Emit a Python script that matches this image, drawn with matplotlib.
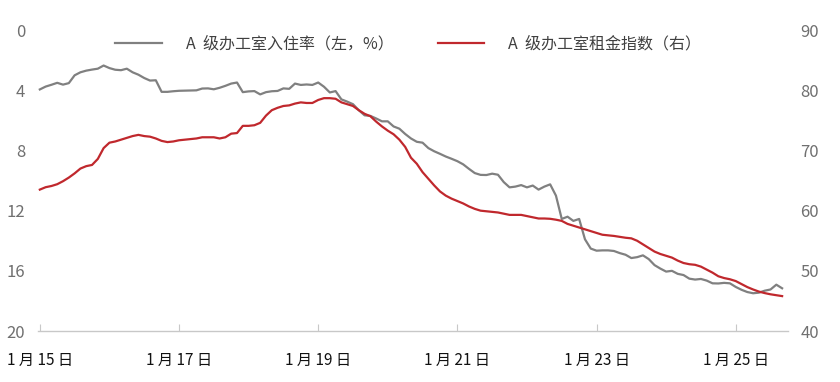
import numpy as np
import matplotlib
matplotlib.use("Agg")
import matplotlib.pyplot as plt

plt.rcParams['font.family'] = ['Noto Sans CJK SC', 'DejaVu Sans']

# monthly data, Jan 2015 onwards
occupancy = [3.94, 3.75, 3.63, 3.50, 3.62, 3.52, 3.00, 2.80, 2.69, 2.62,
             2.56, 2.35, 2.52, 2.63, 2.66, 2.56, 2.80, 2.96, 3.18, 3.35,
             3.33, 4.10, 4.10, 4.06, 4.03, 4.02, 4.01, 4.00, 3.88, 3.87,
             3.93, 3.83, 3.70, 3.55, 3.48, 4.12, 4.07, 4.05, 4.27, 4.12,
             4.06, 4.04, 3.87, 3.90, 3.55, 3.64, 3.61, 3.64, 3.48, 3.76,
             4.14, 4.05, 4.60, 4.75, 4.92, 5.32, 5.66, 5.70, 5.87, 6.06,
             6.06, 6.40, 6.55, 6.90, 7.20, 7.42, 7.48, 7.84, 8.05, 8.22,
             8.40, 8.55, 8.71, 8.92, 9.22, 9.50, 9.62, 9.63, 9.54, 9.61,
             10.10, 10.45, 10.40, 10.30, 10.45, 10.33, 10.60, 10.40, 10.25, 11.00,
             12.55, 12.40, 12.68, 12.55, 13.90, 14.52, 14.66, 14.64, 14.64, 14.68,
             14.82, 14.93, 15.15, 15.09, 14.97, 15.22, 15.62, 15.85, 16.05, 16.00,
             16.20, 16.28, 16.52, 16.58, 16.54, 16.65, 16.83, 16.84, 16.80, 16.83,
             17.07, 17.26, 17.41, 17.49, 17.45, 17.32, 17.24, 16.92, 17.16]

rent_index = [63.5, 63.9, 64.1, 64.4, 64.9, 65.5, 66.2, 67.0, 67.4, 67.6,
              68.6, 70.4, 71.3, 71.5, 71.8, 72.1, 72.4, 72.6, 72.4, 72.3,
              72.0, 71.6, 71.4, 71.5, 71.7, 71.8, 71.9, 72.0, 72.2, 72.2,
              72.2, 72.0, 72.2, 72.8, 72.9, 74.1, 74.1, 74.2, 74.6, 75.8,
              76.7, 77.1, 77.4, 77.5, 77.8, 78.0, 77.9, 77.9, 78.4, 78.7,
              78.7, 78.6, 78.0, 77.7, 77.4, 76.7, 76.1, 75.7, 74.8, 74.0,
              73.3, 72.7, 71.8, 70.6, 68.8, 67.8, 66.4, 65.3, 64.2, 63.2,
              62.5, 62.0, 61.6, 61.2, 60.7, 60.3, 60.0, 59.9, 59.8, 59.7,
              59.5, 59.3, 59.3, 59.3, 59.1, 58.9, 58.7, 58.7, 58.65, 58.5,
              58.3, 57.8, 57.5, 57.2, 56.9, 56.6, 56.3, 56.0, 55.9, 55.8,
              55.65, 55.5, 55.4, 55.0, 54.4, 53.8, 53.2, 52.8, 52.5, 52.2,
              51.7, 51.3, 51.1, 51.0, 50.7, 50.2, 49.7, 49.1, 48.8, 48.6,
              48.3, 47.8, 47.3, 46.9, 46.55, 46.3, 46.1, 45.95, 45.8]

x_ticks = [0, 24, 48, 72, 96, 120]
x_labels = ['1 月 15 日', '1 月 17 日', '1 月 19 日', '1 月 21 日', '1 月 23 日', '1 月 25 日']
left_ticks = [0, 4, 8, 12, 16, 20]
right_ticks = [40, 50, 60, 70, 80, 90]

label_gray = 'A  级办工室入住率（左，%）'
label_red = 'A  级办工室租金指数（右）'

months = np.arange(len(occupancy))

fig = plt.figure(figsize=(8.4, 3.82), dpi=100)
ax = fig.add_axes([0.045, 0.1335, 0.893, 0.7875])
ax2 = ax.twinx()

l1, = ax.plot(months, occupancy, color='#808080', lw=1.6)
l2, = ax2.plot(months, rent_index, color='#c0282d', lw=1.6)

ax.set_xlim(-0.35, 129)
ax.set_ylim(20, 0)
ax2.set_ylim(40, 90)
ax.set_yticks(left_ticks)
ax2.set_yticks(right_ticks)
ax.set_xticks(x_ticks)
ax.set_xticklabels(x_labels)

for a in (ax, ax2):
    for s in ['top', 'left', 'right', 'bottom']:
        a.spines[s].set_visible(False)
ax.spines['bottom'].set_visible(True)
ax.spines['bottom'].set_color('#c8c8c8')
ax.spines['bottom'].set_linewidth(1.0)

ax.tick_params(axis='x', direction='in', length=5, color='#c8c8c8',
               pad=15, labelsize=11, labelcolor='#111111')
ax.tick_params(axis='y', length=0, pad=9, labelsize=12, labelcolor='#707070')
ax2.tick_params(axis='y', length=0, pad=9, labelsize=12, labelcolor='#707070')

leg = ax.legend([l1, l2], [label_gray, label_red], loc='center',
                bbox_to_anchor=(0.494, 0.955), ncol=2, frameon=False,
                fontsize=11.5, handlelength=2.9, handletextpad=1.5,
                columnspacing=2.8)
for t in leg.get_texts():
    t.set_color('#404040')

fig.savefig('out.png', dpi=100)
